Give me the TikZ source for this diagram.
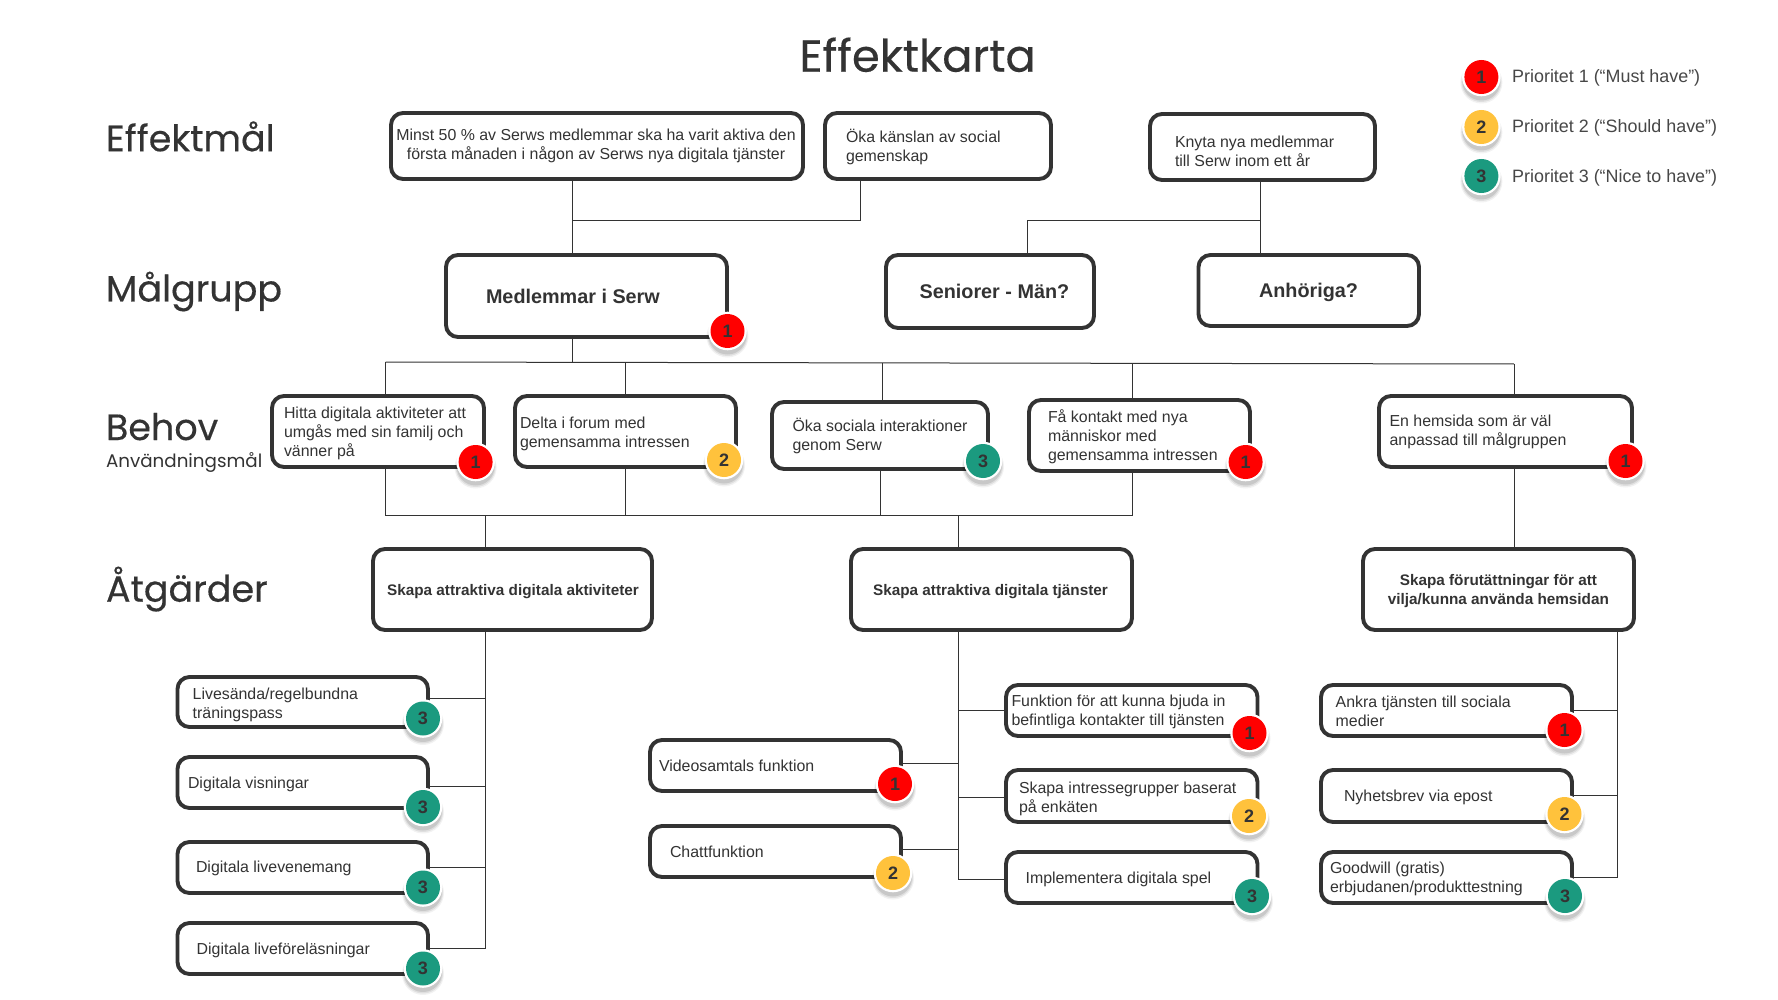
\documentclass[tikz,border=0pt]{standalone}
\usepackage{fontspec}
\setmainfont{Liberation Sans}
\newfontfamily\popfont{Poppins}
\newfontfamily\popmed[FakeBold=0.35]{Poppins}
\definecolor{ink}{HTML}{333333}
\definecolor{pone}{HTML}{FF0000}
\definecolor{ptwo}{HTML}{FFC23C}
\definecolor{pthree}{HTML}{1B9A7F}
\tikzset{
  boxnode/.style={draw=ink,line width=3.9pt,rounded corners=12pt,fill=white,inner sep=0pt,outer sep=0pt},
  conn/.style={draw=ink,line width=1pt},
  bodytxt/.style={text=ink,inner sep=0pt,outer sep=0pt,align=left,font=\fontsize{15.9}{19}\selectfont},
  boldtxt/.style={bodytxt,align=center,font=\fontsize{15.3}{19}\selectfont\bfseries},
  bigtxt/.style={bodytxt,align=center,font=\fontsize{19.8}{19}\selectfont\bfseries},
  headtxt/.style={text=ink,inner sep=0pt,outer sep=0pt,anchor=base west,font=\fontsize{36.5}{40}\selectfont\popmed},
  legtxt/.style={text=ink!90!white,inner sep=0pt,outer sep=0pt,anchor=base west,font=\fontsize{17.9}{20}\selectfont},
  badgenode/.style={circle,minimum size=34pt,inner sep=0pt,outer sep=0pt,text=ink,font=\fontsize{18}{20}\selectfont\bfseries},
}
% box from corners
\newcommand{\bx}[5]{%
  \pgfmathsetmacro{\bxw}{#4-#2}\pgfmathsetmacro{\bxh}{#5-#3}%
  \pgfmathsetmacro{\bxx}{(#4+#2)/2}\pgfmathsetmacro{\bxy}{(#5+#3)/2}%
  \node[boxnode,minimum width=\bxw pt,minimum height=\bxh pt] (#1) at (\bxx,\bxy) {};}
% text: first baseline at #5
\newcommand{\lab}[6]{%
  \pgfmathsetmacro{\laby}{#5-20}%
  \node[#1,anchor=#3] (#2) at (#4,\laby) {\rule{0pt}{20pt}#6};}
% badge
\newcommand{\bdg}[5]{%
  \fill[black,opacity=.05] (#2,#3+5.5) circle (21pt);
  \fill[black,opacity=.08] (#2,#3+5) circle (20pt);
  \fill[black,opacity=.10] (#2,#3+4.5) circle (19pt);
  \fill[white] (#2,#3) circle (19.3pt);
  \node[badgenode,fill=#4] (#1) at (#2,#3) {#5};}
\begin{document}
\begin{tikzpicture}[x=1pt,y=-1pt]
\useasboundingbox (0,0) rectangle (1778,1000);
\fill[white] (0,0) rectangle (1778,1000);
% boxes
\bx{e1}{391}{113}{803}{179}
\bx{e2}{825}{113}{1051}{179}
\bx{e3}{1150}{114}{1375}{180}
\bx{m1}{446}{255}{727}{337}
\bx{m2}{886}{255}{1094}{328}
\bx{m3}{1198.5}{255}{1419}{326}
\bx{b1}{272}{396}{484}{467}
\bx{b2}{515}{396}{736}{467}
\bx{b3}{772}{402}{988}{469}
\bx{b4}{1029}{400}{1250}{471}
\bx{b5}{1379}{396}{1632}{467}
\bx{a1}{373}{549}{652}{630}
\bx{a2}{851}{549}{1132}{630}
\bx{a3}{1363}{549}{1634}{630}
\bx{l1}{177.5}{677}{428}{727}
\bx{l2}{177.5}{757}{428}{808}
\bx{l3}{177.5}{842}{428}{893}
\bx{l4}{177.5}{923}{428}{974}
\bx{v1}{650}{740}{901}{791}
\bx{v2}{650}{826}{901}{877}
\bx{f1}{1006}{685}{1257.5}{736}
\bx{f2}{1006}{770}{1257.5}{822}
\bx{f3}{1006}{852}{1257.5}{903}
\bx{r1}{1321}{685}{1572}{736}
\bx{r2}{1321}{770}{1572}{822}
\bx{r3}{1321}{852}{1572}{903}
% junctions
\coordinate (jl) at (572.6,220.5);
\coordinate (jle) at (860.5,220.5);
\coordinate (jr) at (1260,220.5);
\coordinate (jre) at (1027,220.5);
\coordinate (ja) at (572.6,362.5);
\coordinate (ba) at (385.5,362);
\coordinate (bb) at (625.3,362.5);
\coordinate (bc) at (882,363);
\coordinate (bd) at (1132,363.5);
\coordinate (be) at (1514,364);
\coordinate (ca) at (385.5,515);
\coordinate (cb) at (625.3,515);
\coordinate (cc) at (880.4,515);
\coordinate (cd) at (1132,515);
\coordinate (ta1) at (485,515);
\coordinate (ta2) at (958,515);
\coordinate (k1) at (485,698);
\coordinate (k2) at (485,786);
\coordinate (k3) at (485,867);
\coordinate (k4) at (485,948);
\coordinate (n1) at (958,710);
\coordinate (n2) at (958,797);
\coordinate (n3) at (958,879);
\coordinate (n4) at (958,763);
\coordinate (n5) at (958,849);
\coordinate (p0) at (1617,630);
\coordinate (p1) at (1617,710);
\coordinate (p2) at (1617,795);
\coordinate (p3) at (1617,877);
% connectors
\draw[conn] (jl |- e1.south) -- (jl |- m1.north);
\draw[conn] (jl) -- (jle) -- (jle |- e2.south);
\draw[conn] (jr |- e3.south) -- (jr |- m3.north);
\draw[conn] (jr) -- (jre) -- (jre |- m2.north);
\draw[conn] (ja |- m1.south) -- (ja);
\draw[conn] (ba) -- (be);
\draw[conn] (ba) -- (ba |- b1.north);
\draw[conn] (bb) -- (bb |- b2.north);
\draw[conn] (bc) -- (bc |- b3.north);
\draw[conn] (bd) -- (bd |- b4.north);
\draw[conn] (be) -- (be |- b5.north);
\draw[conn] (ca |- b1.south) -- (ca) -- (cd) -- (cd |- b4.south);
\draw[conn] (cb |- b2.south) -- (cb);
\draw[conn] (cc |- b3.south) -- (cc);
\draw[conn] (ta1) -- (ta1 |- a1.north);
\draw[conn] (ta2) -- (ta2 |- a2.north);
\draw[conn] (be |- b5.south) -- (be |- a3.north);
\draw[conn] (k1 |- a1.south) -- (k4) -- (k4 -| l4.east);
\draw[conn] (k1) -- (k1 -| l1.east);
\draw[conn] (k2) -- (k2 -| l2.east);
\draw[conn] (k3) -- (k3 -| l3.east);
\draw[conn] (n1 |- a2.south) -- (n3) -- (n3 -| f3.west);
\draw[conn] (n1) -- (n1 -| f1.west);
\draw[conn] (n2) -- (n2 -| f2.west);
\draw[conn] (n4) -- (n4 -| v1.east);
\draw[conn] (n5) -- (n5 -| v2.east);
\draw[conn] (p0) -- (p3) -- (p3 -| r3.east);
\draw[conn] (p1) -- (p1 -| r1.east);
\draw[conn] (p2) -- (p2 -| r2.east);
% headings
\node[headtxt,font=\fontsize{44.8}{50}\selectfont\popmed] (title) at (799.5,71.7) {Effektkarta};
\node[headtxt] (h1) at (106,151.2) {Effektmål};
\node[headtxt] (h2) at (106,301.5) {Målgrupp};
\node[headtxt] (h3) at (106,440) {Behov};
\node[headtxt,font=\fontsize{18.3}{20}\selectfont\popfont] (h3b) at (106,467.5) {Användningsmål};
\node[headtxt] (h4) at (106,601.7) {Åtgärder};
% texts
\lab{bodytxt,align=center}{te1}{north}{596}{141}{Minst 50 \% av Serws medlemmar ska ha varit aktiva den\\första månaden i någon av Serws nya digitala tjänster}
\lab{bodytxt}{te2}{north west}{846}{143}{Öka känslan av social\\gemenskap}
\lab{bodytxt}{te3}{north west}{1175}{148}{Knyta nya medlemmar\\till Serw inom ett år}
\lab{bigtxt}{tm1}{north west}{486}{303.5}{Medlemmar i Serw}
\lab{bigtxt}{tm2}{north west}{919.6}{298.5}{Seniorer - Män?}
\lab{bigtxt}{tm3}{north west}{1259}{297.5}{Anhöriga?}
\lab{bodytxt}{tb1}{north west}{284}{418.8}{Hitta digitala aktiviteter att\\umgås med sin familj och\\vänner på}
\lab{bodytxt}{tb2}{north west}{520}{428}{Delta i forum med\\gemensamma intressen}
\lab{bodytxt}{tb3}{north west}{792.5}{431.7}{Öka sociala interaktioner\\genom Serw}
\lab{bodytxt}{tb4}{north west}{1048}{422}{Få kontakt med nya\\människor med\\gemensamma intressen}
\lab{bodytxt}{tb5}{north west}{1389.6}{426}{En hemsida som är väl\\anpassad till målgruppen}
\lab{boldtxt}{ta1t}{north}{513}{595}{Skapa attraktiva digitala aktiviteter}
\lab{boldtxt}{ta2t}{north}{990.5}{595}{Skapa attraktiva digitala tjänster}
\lab{boldtxt}{ta3t}{north}{1498.4}{585}{Skapa förutättningar för att\\vilja/kunna använda hemsidan}
\lab{bodytxt}{tl1}{north west}{192.7}{699}{Livesända/regelbundna\\träningspass}
\lab{bodytxt}{tl2}{north west}{188}{788}{Digitala visningar}
\lab{bodytxt}{tl3}{north west}{196}{872}{Digitala livevenemang}
\lab{bodytxt}{tl4}{north west}{196.7}{954}{Digitala liveföreläsningar}
\lab{bodytxt}{tv1}{north west}{659}{771}{Videosamtals funktion}
\lab{bodytxt}{tv2}{north west}{670}{857}{Chattfunktion}
\lab{bodytxt}{tf1}{north west}{1011.5}{706}{Funktion för att kunna bjuda in\\befintliga kontakter till tjänsten}
\lab{bodytxt}{tf2}{north west}{1019}{793}{Skapa intressegrupper baserat\\på enkäten}
\lab{bodytxt}{tf3}{north west}{1025.6}{883}{Implementera digitala spel}
\lab{bodytxt}{tr1}{north west}{1335.7}{707.7}{Ankra tjänsten till sociala\\medier}
\lab{bodytxt}{tr2}{north west}{1344}{801}{Nyhetsbrev via epost}
\lab{bodytxt}{tr3}{north west}{1330}{873}{Goodwill (gratis)\\erbjudanen/produkttestning}
% legend
\node[legtxt] (lg1) at (1512.2,82.8) {Prioritet 1 (“Must have”)};
\node[legtxt] (lg2) at (1512.2,132.2) {Prioritet 2 (“Should have”)};
\node[legtxt] (lg3) at (1512.2,182.2) {Prioritet 3 (“Nice to have”)};
% badges
\bdg{g1}{1481.4}{77}{pone}{1}
\bdg{g2}{1481.4}{127}{ptwo}{2}
\bdg{g3}{1481.4}{176}{pthree}{3}
\bdg{dm1}{727.5}{331}{pone}{1}
\bdg{db1}{475.6}{462}{pone}{1}
\bdg{db2}{724}{460}{ptwo}{2}
\bdg{db3}{983}{461}{pthree}{3}
\bdg{db4}{1245.6}{462}{pone}{1}
\bdg{db5}{1625.5}{461}{pone}{1}
\bdg{dl1}{423}{718.5}{pthree}{3}
\bdg{dl2}{423}{807}{pthree}{3}
\bdg{dl3}{423}{887.5}{pthree}{3}
\bdg{dl4}{423}{968.5}{pthree}{3}
\bdg{dv1}{895}{784}{pone}{1}
\bdg{dv2}{893}{873}{ptwo}{2}
\bdg{df1}{1249.5}{733}{pone}{1}
\bdg{df2}{1249}{816}{ptwo}{2}
\bdg{df3}{1252}{896}{pthree}{3}
\bdg{dr1}{1564.5}{730}{pone}{1}
\bdg{dr2}{1564.5}{814}{ptwo}{2}
\bdg{dr3}{1565}{896}{pthree}{3}
\end{tikzpicture}
\end{document}
